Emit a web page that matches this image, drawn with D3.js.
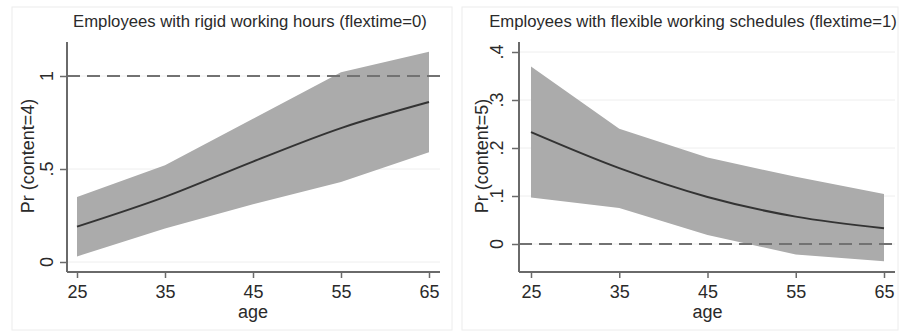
<!DOCTYPE html>
<html>

<head>
    <meta charset="utf-8">
    <title>Predicted probabilities by age</title>
    <script src="https://cdn.jsdelivr.net/npm/d3@7"></script>
    <style>
        body {
            margin: 0;
            background: white;
            font-family: "Liberation Sans", Arial, sans-serif;
        }

        .tick-label {
            font-size: 18px;
            fill: #2a2a2a;
        }
    </style>
</head>

<body>
    <script>
        // ages on the x axis
        const ages = [25, 35, 45, 55, 65];

        // panel 1: flextime = 0, Pr(content=4)
        const rigidMean = [0.19, 0.35, 0.54, 0.72, 0.86];
        const rigidUpper = [0.35, 0.52, 0.77, 1.02, 1.13];
        const rigidLower = [0.03, 0.18, 0.31, 0.43, 0.59];
        const rigidTicks = [0, 0.5, 1];
        const rigidTickLabels = ['0', '.5', '1'];

        // panel 2: flextime = 1, Pr(content=5)
        const flexMean = [0.233, 0.158, 0.098, 0.057, 0.033];
        const flexUpper = [0.37, 0.24, 0.18, 0.14, 0.104];
        const flexLower = [0.097, 0.075, 0.019, -0.022, -0.036];
        const flexTicks = [0, 0.1, 0.2, 0.3, 0.4];
        const flexTickLabels = ['0', '.1', '.2', '.3', '.4'];

        const width = 903;
        const height = 332;

        const svg = d3.select('body')
            .append('svg')
            .attr('width', width)
            .attr('height', height);

        const panels = [
            {
                title: 'Employees with rigid working hours (flextime=0)',
                ylabel: 'Pr (content=4)',
                mean: rigidMean, upper: rigidUpper, lower: rigidLower,
                ticks: rigidTicks, tickLabels: rigidTickLabels,
                refLine: 1,
                box: { x0: 12, x1: 452 },
                axisX: 67, plotRight: 440,
                xRange: [77, 429],
                yDomain: [0, 1], yRange: [262, 76],
                titleX: 250, ylabelX: 28, tickLabelX: 47
            },
            {
                title: 'Employees with flexible working schedules (flextime=1)',
                ylabel: 'Pr (content=5)',
                mean: flexMean, upper: flexUpper, lower: flexLower,
                ticks: flexTicks, tickLabels: flexTickLabels,
                refLine: 0,
                box: { x0: 462, x1: 898 },
                axisX: 519, plotRight: 895,
                xRange: [531, 884],
                yDomain: [0, 0.4], yRange: [244, 52],
                titleX: 693, ylabelX: 482, tickLabelX: 497
            }
        ];

        const axisTop = 42;
        const axisBottom = 272;

        panels.forEach(p => {
            const g = svg.append('g');

            // faint panel frame
            g.append('rect')
                .attr('x', p.box.x0)
                .attr('y', 7)
                .attr('width', p.box.x1 - p.box.x0)
                .attr('height', 323)
                .attr('fill', 'none')
                .attr('stroke', '#ececec');

            const xScale = d3.scaleLinear()
                .domain([25, 65])
                .range(p.xRange);

            const yScale = d3.scaleLinear()
                .domain(p.yDomain)
                .range(p.yRange);

            // grid lines
            g.selectAll('.grid')
                .data(p.ticks)
                .enter()
                .append('line')
                .attr('x1', p.axisX)
                .attr('x2', p.plotRight)
                .attr('y1', d => yScale(d))
                .attr('y2', d => yScale(d))
                .attr('stroke', '#eeeeee')
                .attr('stroke-width', 1);

            // confidence band
            const area = d3.area()
                .x((d, i) => xScale(ages[i]))
                .y0((d, i) => yScale(p.lower[i]))
                .y1((d, i) => yScale(p.upper[i]));

            g.append('path')
                .datum(ages)
                .attr('d', area)
                .attr('fill', '#ababab');

            // reference line
            g.append('line')
                .attr('x1', p.axisX)
                .attr('x2', p.plotRight)
                .attr('y1', yScale(p.refLine))
                .attr('y2', yScale(p.refLine))
                .attr('stroke', '#727272')
                .attr('stroke-width', 2.2)
                .attr('stroke-dasharray', '13,7');

            // predicted probability line
            const line = d3.line()
                .x((d, i) => xScale(ages[i]))
                .y((d, i) => yScale(p.mean[i]))
                .curve(d3.curveMonotoneX);

            g.append('path')
                .datum(ages)
                .attr('d', line)
                .attr('fill', 'none')
                .attr('stroke', '#333')
                .attr('stroke-width', 2);

            // x axis
            const xAxis = g.append('g')
                .attr('transform', `translate(0, ${axisBottom})`)
                .call(d3.axisBottom(xScale).tickValues(ages).tickSize(6).tickPadding(4).tickFormat(d3.format('d')));
            xAxis.select('.domain').remove();
            xAxis.append('line')
                .attr('x1', p.axisX)
                .attr('x2', p.plotRight)
                .attr('stroke', '#6a6a6a')
                .attr('stroke-width', 2);
            xAxis.selectAll('.tick line').attr('stroke', '#6a6a6a').attr('stroke-width', 1.5);
            xAxis.selectAll('.tick text')
                .attr('class', 'tick-label')
                .attr('dy', '0.9em')
                .style('font-family', '"Liberation Sans", Arial, sans-serif');

            // y axis
            const yAxis = g.append('g')
                .attr('transform', `translate(${p.axisX}, 0)`)
                .call(d3.axisLeft(yScale).tickValues(p.ticks).tickSize(7).tickFormat(''));
            yAxis.select('.domain').remove();
            yAxis.append('line')
                .attr('y1', axisTop)
                .attr('y2', axisBottom)
                .attr('stroke', '#6a6a6a')
                .attr('stroke-width', 2);
            yAxis.selectAll('.tick line').attr('stroke', '#6a6a6a').attr('stroke-width', 1.5);

            // rotated y tick labels
            g.selectAll('.ylab')
                .data(p.ticks)
                .enter()
                .append('text')
                .attr('class', 'tick-label')
                .attr('transform', d => `translate(${p.tickLabelX}, ${yScale(d)}) rotate(-90)`)
                .attr('text-anchor', 'middle')
                .attr('dy', '0.35em')
                .text((d, i) => p.tickLabels[i]);

            // y axis title
            g.append('text')
                .attr('transform', `translate(${p.ylabelX}, 156) rotate(-90)`)
                .attr('text-anchor', 'middle')
                .attr('dy', '0.35em')
                .style('font-size', '18px')
                .attr('fill', '#2a2a2a')
                .text(p.ylabel);

            // x axis title
            g.append('text')
                .attr('x', (p.xRange[0] + p.xRange[1]) / 2)
                .attr('y', 318)
                .attr('text-anchor', 'middle')
                .style('font-size', '18px')
                .attr('fill', '#2a2a2a')
                .text('age');

            // panel title
            g.append('text')
                .attr('x', p.titleX)
                .attr('y', 27)
                .attr('text-anchor', 'middle')
                .style('font-size', '16.7px')
                .attr('fill', '#2a2a2a')
                .text(p.title);
        });
    </script>
</body>

</html>
